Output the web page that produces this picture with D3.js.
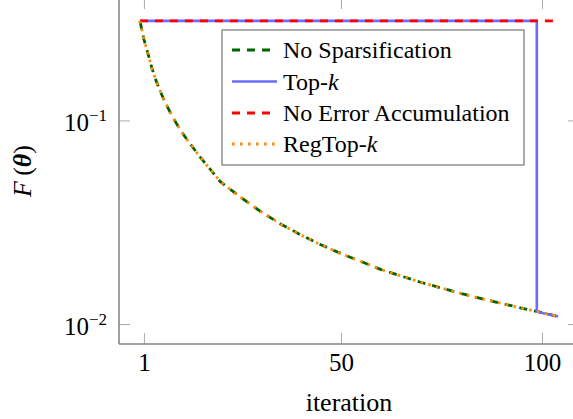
<!DOCTYPE html>
<html>
<head>
<meta charset="utf-8">
<script src="https://cdn.jsdelivr.net/npm/d3@7"></script>
<style>
  body { margin: 0; background: #fff; }
  svg { display: block; font-family: "Liberation Serif", "Times New Roman", serif; }
</style>
</head>
<body>
<div id="chart"></div>
<script>
// iterations and loss values
var iters = [0, 1, 2, 3, 4, 5, 6, 8, 10, 12, 15, 20, 25, 30, 35, 40, 45, 50, 60, 70, 80, 90, 99, 104];
var noSparse = [0.308, 0.25, 0.213, 0.18, 0.157, 0.14, 0.126, 0.105, 0.09, 0.079, 0.066, 0.05, 0.042, 0.0357, 0.031, 0.0274, 0.0245, 0.0222, 0.0185, 0.016, 0.0141, 0.0126, 0.0115, 0.0109];
var regTopk = [0.308, 0.25, 0.213, 0.18, 0.157, 0.14, 0.126, 0.105, 0.09, 0.079, 0.066, 0.05, 0.042, 0.0357, 0.031, 0.0274, 0.0245, 0.0222, 0.0185, 0.016, 0.0141, 0.0126, 0.0115, 0.0109];
var topkIters = [0, 98.7, 98.7, 104];
var topk = [0.308, 0.308, 0.0115, 0.0109];
var noErrIters = [0, 104];
var noErr = [0.308, 0.308];

var xTicks = [1, 50, 100];
var yTicks = [0.1, 0.01];
var yTickExp = ["\u22121", "\u22122"];
var legendNames = ["No Sparsification", "Top-", "No Error Accumulation", "RegTop-"];

var w = 573, h = 419;
var mLeft = 119, mRight = 579, mTop = -2, mBottom = 344;

var x = d3.scaleLinear().domain([-5.2, 109.2]).range([mLeft, mRight]);
var y = d3.scaleLog().domain([Math.pow(10, -2.098), Math.pow(10, -0.399)]).range([mBottom, mTop]);

var svg = d3.select("#chart").append("svg").attr("width", w).attr("height", h);

var axisColor = "#808080";

function styleTicks(g) {
  g.select(".domain").remove();
  g.selectAll("line").attr("stroke", "#aaa").attr("stroke-width", 1);
}

// tick marks (inward on all four sides)
var gx = svg.append("g").attr("transform", "translate(0," + mBottom + ")")
  .call(d3.axisBottom(x).tickValues(xTicks).tickSize(-11).tickFormat(d3.format("d")));
styleTicks(gx);
gx.selectAll("text").attr("y", 27).attr("dy", null).attr("fill", "#000")
  .style("font-size", "25px").style("font-family", "Liberation Serif");

var gxt = svg.append("g").attr("transform", "translate(0," + mTop + ")")
  .call(d3.axisTop(x).tickValues(xTicks).tickSize(-11).tickFormat(""));
styleTicks(gxt);

var gy = svg.append("g").attr("transform", "translate(" + mLeft + ",0)")
  .call(d3.axisLeft(y).tickValues(yTicks).tickSize(-11).tickFormat(""));
styleTicks(gy);

var gyr = svg.append("g").attr("transform", "translate(" + mRight + ",0)")
  .call(d3.axisRight(y).tickValues(yTicks).tickSize(-11).tickFormat(""));
styleTicks(gyr);

// y tick labels 10^-1, 10^-2
yTicks.forEach(function (d, i) {
  var t = svg.append("text")
    .attr("x", 107)
    .attr("y", y(d) + 11)
    .attr("text-anchor", "end")
    .style("font-size", "25px");
  t.append("tspan").text("10");
  t.append("tspan").attr("dy", -10).style("font-size", "17px").text(yTickExp[i]);
});

// axis lines
svg.append("line").attr("x1", mLeft).attr("x2", mLeft).attr("y1", mTop).attr("y2", mBottom)
  .attr("stroke", axisColor).attr("stroke-width", 1.5);
svg.append("line").attr("x1", mLeft).attr("x2", mRight).attr("y1", mBottom).attr("y2", mBottom)
  .attr("stroke", axisColor).attr("stroke-width", 1.5);

// axis labels
svg.append("text").attr("x", (mLeft + mRight) / 2).attr("y", 411)
  .attr("text-anchor", "middle").style("font-size", "26px").text("iteration");

var yl = svg.append("text")
  .attr("transform", "translate(31," + (mTop + mBottom) / 2 + ") rotate(-90)")
  .attr("text-anchor", "middle")
  .style("font-size", "26px");
yl.append("tspan").style("font-style", "italic").text("F");
yl.append("tspan").text("\u2009(");
yl.append("tspan").style("font-style", "italic").style("font-weight", "bold").text("\u03b8");
yl.append("tspan").text(")");

// series
var series = [
  { xs: iters, ys: noSparse, color: "#006400", dash: "8,7", width: 2.8 },
  { xs: topkIters, ys: topk, color: "#6b6bff", dash: null, width: 2.6 },
  { xs: noErrIters, ys: noErr, color: "#ff0000", dash: "8,7", width: 2.8 },
  { xs: iters, ys: regTopk, color: "#ff8c00", dash: "2.6,5.4", width: 2.8 }
];

var line = d3.line()
  .x(function (d) { return x(d[0]); })
  .y(function (d) { return y(d[1]); });

series.forEach(function (s) {
  var pts = s.xs.map(function (v, i) { return [v, s.ys[i]]; });
  svg.append("path")
    .attr("d", line(pts))
    .attr("fill", "none")
    .attr("stroke", s.color)
    .attr("stroke-width", s.width)
    .attr("stroke-dasharray", s.dash);
});

// legend
var lg = svg.append("g");
lg.append("rect").attr("x", 222).attr("y", 30).attr("width", 302).attr("height", 135)
  .attr("fill", "#fff").attr("stroke", axisColor).attr("stroke-width", 1.3);

var rowY = [50, 81.5, 113, 144];
series.forEach(function (s, i) {
  lg.append("line")
    .attr("x1", 232).attr("x2", 277)
    .attr("y1", rowY[i]).attr("y2", rowY[i])
    .attr("stroke", s.color)
    .attr("stroke-width", s.width)
    .attr("stroke-dasharray", s.dash);
  var t = lg.append("text")
    .attr("x", 283)
    .attr("y", rowY[i] + 8)
    .style("font-size", "24px")
    .text(legendNames[i]);
  if (i === 1 || i === 3) {
    t.append("tspan").style("font-style", "italic").text("k");
  }
});
</script>
</body>
</html>
